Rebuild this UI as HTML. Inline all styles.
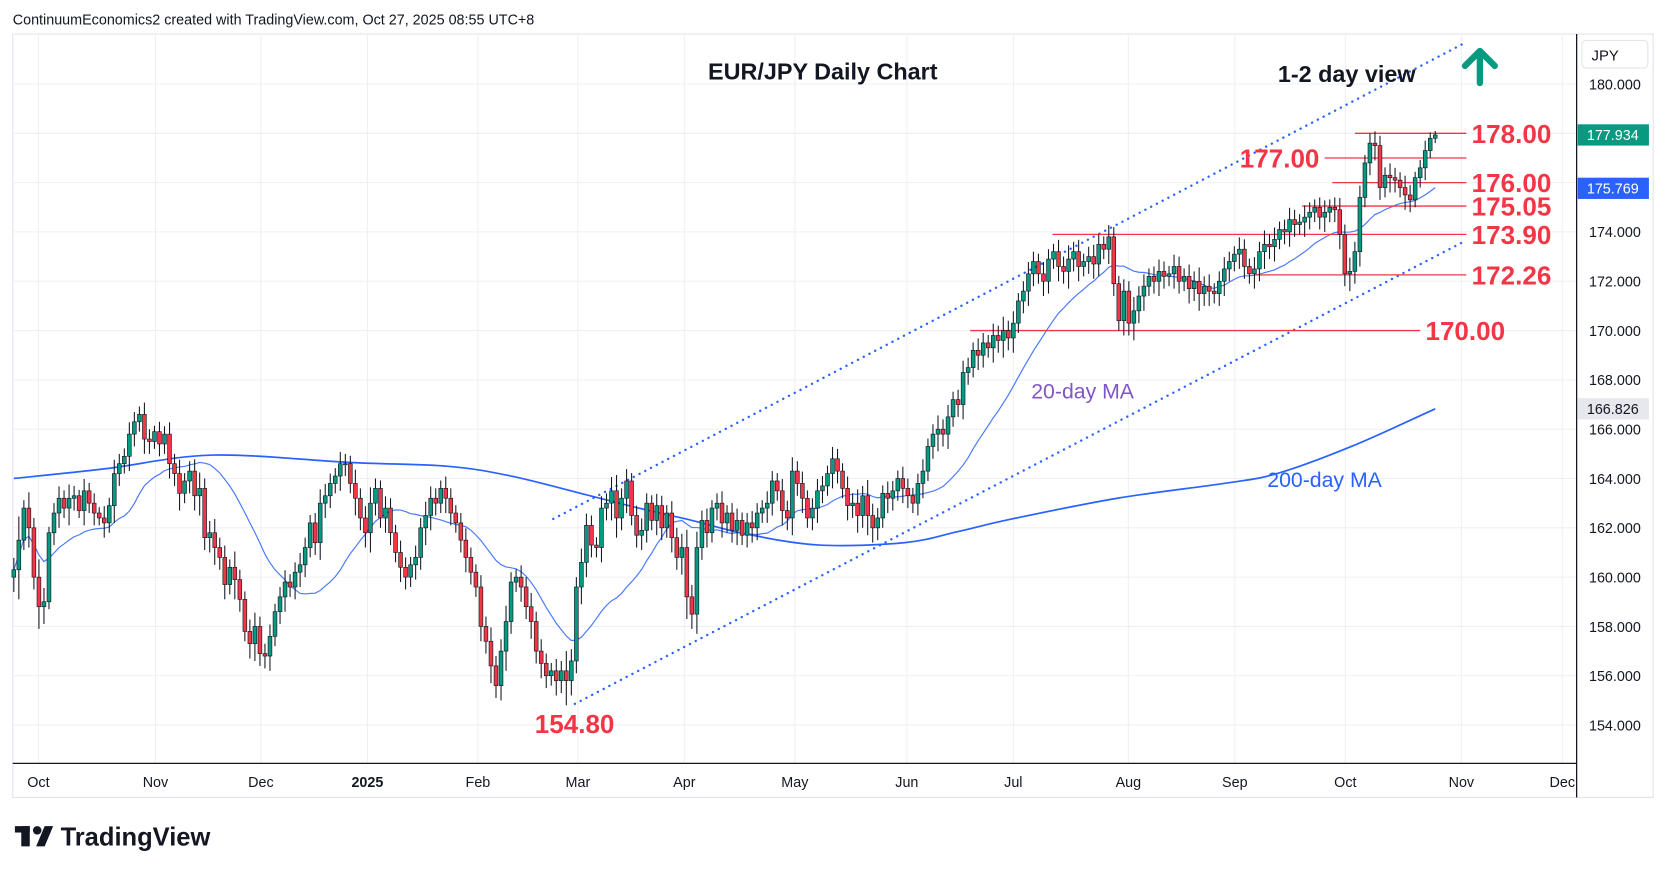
<!DOCTYPE html>
<html><head><meta charset="utf-8"><title>EUR/JPY Daily Chart</title>
<style>
html,body{margin:0;padding:0;background:#fff;}
svg{display:block;font-family:"Liberation Sans",sans-serif;}
</style></head>
<body>
<svg id="chart" width="1667" height="874" viewBox="0 0 1568 822" preserveAspectRatio="none" xmlns="http://www.w3.org/2000/svg">
<rect x="0" y="0" width="1568" height="822" fill="#ffffff"/>
<text x="12" y="23" font-size="13.5" fill="#131722">ContinuumEconomics2 created with TradingView.com, Oct 27, 2025 08:55 UTC+8</text>
<rect x="12" y="32" width="1543" height="718" fill="none" stroke="#e0e3eb"/>
<g id="grid"></g>
<g id="ma200g"></g>
<g id="ma20g"></g>
<g id="channel"></g>
<g id="levels"></g>
<g id="candles"></g>
<line x1="1483" y1="32" x2="1483" y2="750" stroke="#131722" stroke-width="1.2"/>
<line x1="12" y1="718" x2="1483" y2="718" stroke="#131722" stroke-width="1.2"/>
<g id="yaxis"></g>
<g id="xaxis"></g>
<rect x="1488" y="38" width="62" height="26" rx="4" fill="#fff" stroke="#e0e3eb"/>
<text x="1497" y="57" font-size="14" fill="#131722">JPY</text>
<text x="666" y="75" font-size="22" font-weight="bold" fill="#131722">EUR/JPY Daily Chart</text>
<text x="1202" y="77" font-size="22" font-weight="bold" fill="#131722">1-2 day view</text>
<g stroke="#089981" stroke-width="6" stroke-linecap="round" stroke-linejoin="round" fill="none">
<line x1="1392" y1="78" x2="1392" y2="48"/><polyline points="1378,62 1392,48 1406,62"/></g>
<text x="970" y="375" font-size="20" fill="#7e57c2">20-day MA</text>
<text x="1192" y="458" font-size="20" fill="#2962ff">200-day MA</text>
<g>
<rect x="14" y="777" width="14" height="6" fill="#131722"/><rect x="20" y="777" width="8" height="19" fill="#131722"/>
<circle cx="35" cy="781" r="4" fill="#131722"/><polygon points="42,777 50,777 42,796 34,796" fill="#131722"/>
<text x="57" y="795" font-size="24" font-weight="bold" fill="#131722">TradingView</text></g>
</svg>
<script>
const closes=[160.3,161.5,162.8,162.0,160.0,158.8,159.0,161.8,162.6,163.2,
162.8,163.2,163.3,162.7,163.5,163.0,162.6,162.4,162.2,162.9,
164.2,164.6,164.9,165.8,166.3,166.6,165.6,165.5,165.9,165.4,
165.8,164.6,164.2,163.4,163.9,164.3,163.3,163.6,161.6,161.8,
161.2,160.8,159.7,160.4,159.9,159.1,157.8,157.3,158.0,156.9,
156.8,157.6,158.6,159.2,159.8,159.6,160.2,160.5,161.2,162.2,
161.4,163.0,163.3,163.8,164.1,164.6,164.6,163.8,163.2,162.4,
161.8,163.0,163.6,162.4,162.8,161.8,161.0,160.4,160.0,160.5,
160.8,162.0,162.5,163.2,163.0,163.6,163.2,162.6,162.2,161.5,
160.8,160.2,159.6,158.0,157.4,156.4,155.6,157.0,158.2,159.8,
160.0,159.6,158.8,158.2,157.0,156.5,156.0,156.2,155.8,156.2,
155.8,156.6,159.6,160.6,162.1,161.3,161.2,162.8,163.0,163.5,
162.4,163.2,163.9,162.5,161.7,161.9,163.0,162.3,162.9,162.0,
162.6,161.6,160.8,161.2,159.2,158.5,161.2,162.3,161.8,162.8,
163.0,162.2,162.6,161.9,162.3,161.7,162.2,162.0,162.6,162.8,
163.0,163.9,163.5,162.7,162.4,164.3,163.8,163.2,162.4,162.8,
163.5,163.7,164.2,164.8,164.3,163.6,162.9,163.0,162.5,163.3,
162.5,162.0,162.4,163.4,163.2,163.5,164.0,163.6,163.3,163.0,
163.8,164.3,165.3,165.8,166.0,165.8,166.5,167.2,167.0,168.3,
168.5,169.2,169.0,169.5,169.3,169.8,169.6,170.0,169.7,170.3,
171.2,171.6,172.3,172.8,172.3,172.0,172.9,173.2,172.6,172.4,
172.9,173.2,172.6,172.8,173.0,172.7,173.5,173.3,173.8,171.9,
170.4,171.6,170.3,170.8,171.4,171.8,172.2,172.0,172.4,172.2,
172.3,172.6,172.0,172.2,171.7,172.0,171.5,171.8,171.6,171.5,
172.0,172.5,172.8,173.1,173.3,172.6,172.3,172.5,173.2,173.5,
173.4,173.7,174.1,174.0,174.5,174.3,174.4,174.6,174.8,175.0,
174.6,174.8,175.0,174.9,173.9,172.3,172.4,173.2,175.4,176.8,
177.6,177.5,175.8,176.3,176.2,176.1,175.8,175.5,175.3,176.2,
176.6,177.3,177.8,177.934];
const wicks=[0.6,1.2,0.4,0.8,0.5,0.9,0.7,0.3,0.5,0.6,0.4,0.7,0.5,0.3,0.6,0.4,0.5,0.3,0.6,0.4,
0.7,0.5,0.4,0.6,0.5,0.4,0.6,0.5,0.3,0.5,0.4,0.6,0.5,0.7,0.4,0.5,0.6,0.8,0.5,0.6,
0.7,0.5,0.6,0.4,0.8,0.5,0.4,0.6,0.7,0.5,0.5,0.6,0.4,0.5,0.6,0.4,0.5,0.6,0.5,0.4,
0.5,0.7,0.6,0.5,0.4,0.6,0.5,0.4,0.7,0.5,0.6,0.8,0.5,0.4,0.6,0.5,0.4,0.6,0.5,0.4,
0.6,0.5,0.7,0.6,0.5,0.4,0.6,0.5,0.4,0.5,0.6,0.5,0.4,0.6,0.5,0.7,0.5,0.6,0.8,0.5,
0.4,0.6,0.5,0.7,0.5,0.6,0.5,0.4,0.6,0.5,1.0,0.6,0.5,0.7,0.6,0.5,0.4,0.6,0.5,0.7,
0.8,0.5,0.6,0.4,0.5,0.6,0.5,0.4,0.6,0.5,0.4,0.6,0.5,0.7,0.9,0.6,0.8,0.5,0.6,0.4,
0.5,0.6,0.4,0.5,0.6,0.4,0.5,0.6,0.5,0.4,0.6,0.5,0.4,0.6,0.5,0.7,0.5,0.6,0.4,0.5,
0.6,0.5,0.4,0.6,0.5,0.4,0.6,0.5,0.7,0.5,0.8,0.6,0.5,0.4,0.6,0.5,0.4,0.6,0.5,0.4,
0.5,0.6,0.4,0.5,0.7,0.5,0.6,0.4,0.5,0.6,0.5,0.4,0.6,0.5,0.4,0.6,0.5,0.7,0.5,0.6,
0.4,0.5,0.6,0.5,0.4,0.6,0.5,0.4,0.6,0.5,0.7,0.5,0.6,0.4,0.5,0.6,0.5,0.4,0.6,0.5,
0.4,0.6,0.5,0.7,0.5,0.6,0.4,0.5,0.6,0.5,0.4,0.6,0.5,0.4,0.6,0.5,0.7,0.5,0.6,0.4,
0.5,0.6,0.5,0.4,0.6,0.5,0.4,0.6,0.5,0.7,0.5,0.6,0.4,0.5,0.6,0.5,0.4,0.6,0.5,0.4,
0.5,0.6,0.4,0.5,0.6,0.5,0.7,0.5,0.6,0.4,0.5,0.6,0.5,0.4,0.6,0.5,0.4,0.6,0.5,0.3,0.4,0.5,0.3,0.2];
const ma200Idx=[0,18.4,39.6,67,86.2,99,113.8,124.4,135,145.8,160.4,177.4,188,198.5,219.7,240.9,251.5,266.3,283];
const ma200Vals=[164.0,164.4,164.95,164.65,164.5,164.1,163.35,162.8,162.3,161.75,161.3,161.4,161.85,162.35,163.2,163.8,164.2,165.3,166.826];
const priceTicks=[180,174,172,170,168,166,164,162,160,158,156,154];
const monthLabels=["Oct","Nov","Dec","2025","Feb","Mar","Apr","May","Jun","Jul","Aug","Sep","Oct","Nov","Dec"];
const monthIdx=[4.9,28.2,49.2,70.4,92.4,112.3,133.5,155.5,177.8,199,221.9,243.1,265.1,288.2,308.3];
const levelVals=[178.00,177.00,176.00,175.05,173.90,172.26,170.00];
const levelStart=[267,261,262.5,256.5,206.8,247,190.4];
const levelEnd=[289.2,289.2,289.2,289.2,289.2,289.2,280];
const levelLabels=["178.00","177.00","176.00","175.05","173.90","172.26","170.00"];
const channelIdx=[[107.4,289.2],[111.7,289.2]];
const channelVals=[[162.36,181.7],[154.86,173.66]];
const lowLabel="154.80", lowLabelVal=154.8, lowLabelIdx=103.3;

const NS="http://www.w3.org/2000/svg";
const N=closes.length;
const step=(1350-13)/(N-1);
function X(i){return 13+i*step;}
function Y(p){return 79+(180-p)*23.19;}
function mk(tag,attrs,parent){const e=document.createElementNS(NS,tag);for(const k in attrs)e.setAttribute(k,attrs[k]);parent.appendChild(e);return e;}
const grid=document.getElementById('grid');
for(let p=154;p<=180;p+=2){
  const l=mk('line',{x1:12,x2:1483,y1:Y(p),y2:Y(p),stroke:'#edf0f4','stroke-width':1},grid);
  
  
}
monthIdx.forEach(i=>{
  const l=mk('line',{x1:X(i),x2:X(i),y1:32,y2:718,stroke:'#edf0f4','stroke-width':1},grid);
  
  
});
const ya=document.getElementById('yaxis');
priceTicks.forEach(p=>{
  const t=mk('text',{x:1519,y:Y(p)+5,'font-size':13.5,'text-anchor':'middle',fill:'#131722'},ya);
  t.textContent=p.toFixed(3);
  
  
});
const xa=document.getElementById('xaxis');
monthLabels.forEach((m,k)=>{
  const t=mk('text',{x:X(monthIdx[k]),y:740,'font-size':13.5,'text-anchor':'middle',fill:'#131722','font-weight':m==='2025'?'bold':'normal'},xa);
  t.textContent=m;
  
  
});
// 200 MA (smoothed through read points)
let pts=ma200Idx.map((i,k)=>[X(i),Y(ma200Vals[k])]);
let d='M'+pts[0][0]+','+pts[0][1];
for(let k=0;k<pts.length-1;k++){
  const p0=pts[Math.max(0,k-1)],p1=pts[k],p2=pts[k+1],p3=pts[Math.min(pts.length-1,k+2)];
  const c1x=p1[0]+(p2[0]-p0[0])/6,c1y=p1[1]+(p2[1]-p0[1])/6,c2x=p2[0]-(p3[0]-p1[0])/6,c2y=p2[1]-(p3[1]-p1[1])/6;
  d+='C'+c1x+','+c1y+' '+c2x+','+c2y+' '+p2[0]+','+p2[1];
}
const p2e=mk('path',{d:d,fill:'none',stroke:'#2962ff','stroke-width':1.6},document.getElementById('ma200g'));


// 20 MA
d='';
for(let i=0;i<N;i++){const s=Math.max(0,i-19);let sum=0;for(let j=s;j<=i;j++)sum+=closes[j];const v=sum/(i-s+1);d+=(i?'L':'M')+X(i)+','+Y(v);}
const p20=mk('path',{d:d,fill:'none',stroke:'#2962ff','stroke-width':1.1,opacity:0.85},document.getElementById('ma20g'));


const ch=document.getElementById('channel');
channelIdx.forEach((ci,k)=>{
  const l=mk('line',{x1:X(ci[0]),y1:Y(channelVals[k][0]),x2:X(ci[1]),y2:Y(channelVals[k][1]),stroke:'#2962ff','stroke-width':2.2,'stroke-dasharray':'0.1 6','stroke-linecap':'round'},ch);
  
  
});
const lv=document.getElementById('levels');
levelVals.forEach((v,k)=>{
  const l=mk('line',{x1:X(levelStart[k]),x2:X(levelEnd[k]),y1:Y(v),y2:Y(v),stroke:'#f23645','stroke-width':1.2},lv);
  
  
  const left=levelLabels[k]==='177.00';
  const t=mk('text',{x:left?X(levelStart[k])-5:X(levelEnd[k])+5,y:Y(v)+9,'font-size':24.5,'font-weight':'bold',fill:'#f23645','text-anchor':left?'end':'start'},lv);
  t.textContent=levelLabels[k];
  
  
});
const lt=mk('text',{x:X(lowLabelIdx)+2,y:Y(lowLabelVal)+26,'font-size':24.5,'font-weight':'bold',fill:'#f23645'},lv);
lt.textContent=lowLabel;


const cg=document.getElementById('candles');
for(let i=0;i<N;i++){
  const c=closes[i],o=i?closes[i-1]:closes[0]-0.3;
  const w=wicks[i]||0.4;
  const hi=Math.max(o,c)+w*0.8,lo=Math.min(o,c)-w;
  const up=c>=o;const x=X(i);
  const g=mk('g',{},cg);
  
  
  mk('line',{x1:x,x2:x,y1:Y(hi),y2:Y(lo),stroke:'#131722','stroke-width':1},g);
  const top=Y(Math.max(o,c)),bh=Math.max(1,Math.abs(Y(o)-Y(c)));
  mk('rect',{x:x-1.8,y:top,width:3.6,height:bh,fill:up?'#089981':'#f23645',stroke:'#131722','stroke-width':0.6},g);
}
function tag(v,bg,fg,name){
  const g=mk('g',{},document.getElementById('chart'));
  
  
  mk('rect',{x:1484,y:Y(v)-10,width:67,height:20,fill:bg},g);
  const t=mk('text',{x:1517,y:Y(v)+5,'font-size':13.5,'text-anchor':'middle',fill:fg},g);
  t.textContent=v.toFixed(3);
}
tag(closes[N-1],'#089981','#fff','last-price-tag');
tag(175.769,'#2962ff','#fff','ma20-price-tag');
tag(166.826,'#e6e8ee','#131722','ma200-price-tag');
</script>
</body></html>
